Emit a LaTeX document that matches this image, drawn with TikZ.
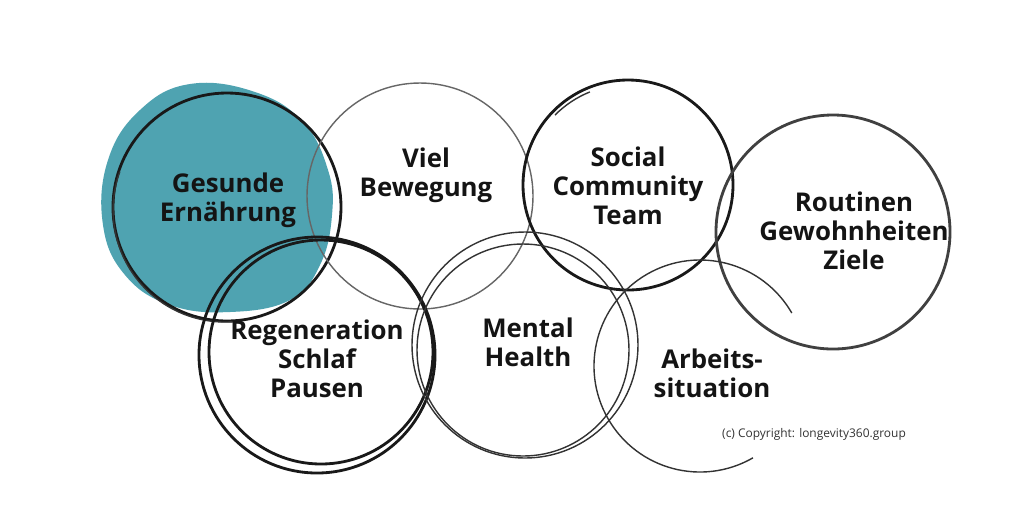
\documentclass[tikz,border=0pt]{standalone}
\usepackage{fontspec}
\setmainfont{Open Sans}
\definecolor{blobteal}{HTML}{4FA3B1}

\begin{document}
\begin{tikzpicture}[x=0.02cm, y=0.02cm,
    topic/.style={font=\fontsize{14.7}{16.6}\selectfont\bfseries, align=center, text=black!92},
    ring/.style={line width=1.6pt, draw=black!90},
    thinring/.style={line width=0.8pt, draw=black!80}]
  \useasboundingbox (0,0) rectangle (1024,-512);
  \fill[white] (0,0) rectangle (1024,-512);
  % blob behind the first circle
  \fill[blobteal] plot[smooth cycle, tension=0.7] coordinates {(190,-84) (255,-92) (303,-122) (328,-170)
    (332,-215) (320,-265) (290,-300) (230,-312) (170,-305) (125,-275) (103,-225) (108,-160) (140,-110)};
  % circles
  \draw[ring] (227,-207) circle[radius=114];
  \draw[thinring] (119.8,-171.7) arc[start angle=160, end angle=275, radius=112];
  \draw[thinring, draw=black!60] (420,-196) circle[radius=113];
  \draw[ring] (628,-185) circle[radius=105];
  \draw[thinring] (555,-115) arc[start angle=135, end angle=112, radius=105];
  \draw[ring, draw=black!75] (833,-232) circle[radius=117];
  \draw[ring] (317,-355) circle[radius=118];
  \draw[ring] (321,-352) circle[radius=112];
  \draw[thinring] (525,-345) circle[radius=113];
  \draw[thinring] (523,-350) circle[radius=106];
  \draw[thinring] (791.8,-313) arc[start angle=30, end angle=300, radius=106];
  % texts
  \node[topic] (ernaehrung) at (228,-200) {Gesunde\\Ernährung};
  \node[topic] (bewegung) at (426,-175) {Viel\\Bewegung};
  \node[topic] (social) at (628,-186) {Social\\Community\\Team};
  \node[topic] (routinen) at (854,-231) {Routinen\\Gewohnheiten\\Ziele};
  \node[topic] (regeneration) at (317,-359) {Regeneration\\Schlaf\\Pausen};
  \node[topic] (mental) at (528,-342) {Mental\\Health};
  \node[topic] (arbeit) at (712,-373) {Arbeits-\\situation};
  \node[font=\fontsize{6.8}{8}\selectfont, text=black!80] (copyright) at (814,-434) {(c) Copyright: longevity360.group};
\end{tikzpicture}
\end{document}
